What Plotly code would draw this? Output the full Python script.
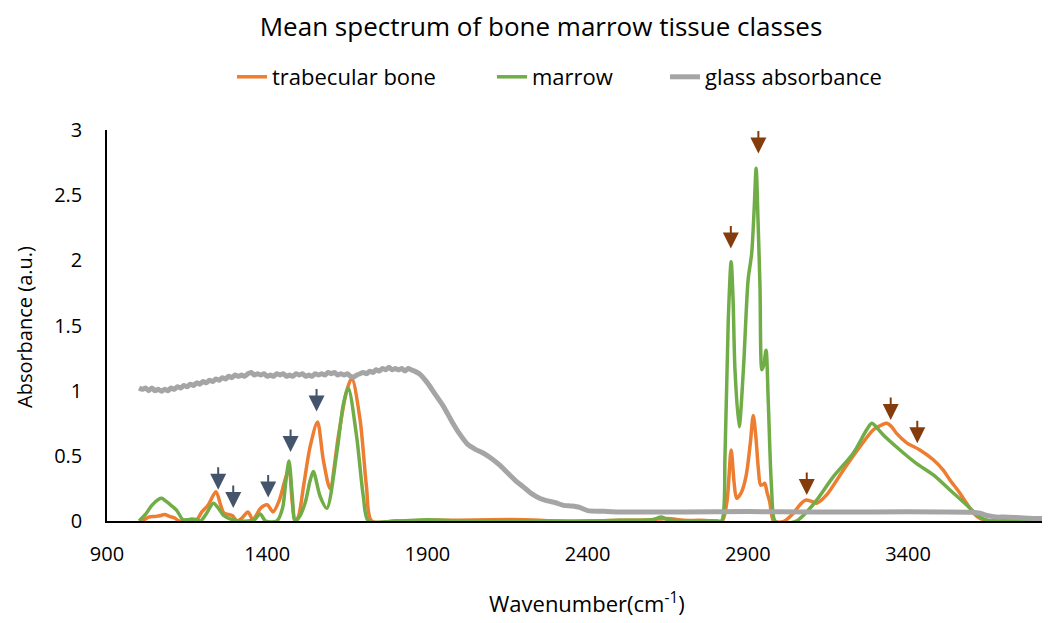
import plotly.graph_objects as go

# ---------------- data ----------------
bone_x = [1000, 1010, 1030, 1050, 1065, 1080, 1095, 1110, 1125, 1140, 1160, 1180, 1196, 1215, 1240,
          1255, 1265, 1280, 1292, 1305, 1320, 1340, 1355, 1365, 1380, 1400, 1418, 1438, 1455, 1468,
          1478, 1487, 1497, 1513, 1534, 1557, 1575, 1596, 1622, 1648, 1664, 1690, 1710, 1726,
          1800, 1900, 2000, 2100, 2200, 2300, 2350, 2400, 2500, 2600, 2650, 2700, 2750, 2800, 2820,
          2835, 2848, 2857, 2865, 2880, 2895, 2908, 2917, 2925, 2933, 2940, 2948, 2953, 2960, 2968,
          2980, 2995, 3015, 3042, 3065, 3080, 3100, 3115, 3146, 3198, 3250, 3292, 3320, 3334, 3350,
          3365, 3396, 3437, 3479, 3510, 3531, 3560, 3583, 3605, 3625, 3656, 3700, 3750, 3800, 3900]
bone_y = [0.0, 0.0, 0.03, 0.035, 0.04, 0.05, 0.035, 0.025, 0.0, 0.0, 0.005, 0.01, 0.07, 0.12, 0.225,
          0.12, 0.06, 0.05, 0.04, 0.0, 0.02, 0.07, 0.01, 0.04, 0.10, 0.125, 0.07, 0.16, 0.31, 0.40,
          0.15, 0.0, 0.03, 0.26, 0.57, 0.76, 0.47, 0.25, 0.65, 1.00, 1.095, 0.775, 0.26, 0.0,
          0.0, 0.005, 0.005, 0.01, 0.01, 0.0, -0.005, 0.0, 0.005, 0.01, 0.02, 0.005, 0.005, 0.0, 0.0,
          0.15, 0.545, 0.30, 0.174, 0.22, 0.35, 0.60, 0.81, 0.65, 0.40, 0.276, 0.28, 0.29, 0.22, 0.15,
          0.0, -0.01, 0.0, 0.06, 0.13, 0.16, 0.15, 0.136, 0.20, 0.39, 0.57, 0.70, 0.74, 0.75, 0.72,
          0.67, 0.60, 0.545, 0.47, 0.39, 0.315, 0.22, 0.136, 0.06, 0.02, 0.0, 0.01, 0.015, 0.01, 0.01]

marrow_x = [1000, 1020, 1040, 1060, 1071, 1085, 1100, 1117, 1137, 1150, 1165, 1180, 1192, 1211, 1232,
            1250, 1263, 1280, 1294, 1310, 1340, 1360, 1378, 1395, 1430, 1448, 1458, 1468, 1478, 1487,
            1500, 1518, 1534, 1544, 1565, 1586, 1617, 1638, 1653, 1679, 1700, 1716, 1800,
            1900, 1950, 2000, 2200, 2400, 2500, 2600, 2631, 2650, 2700, 2800, 2818, 2829, 2839, 2848,
            2854, 2860, 2873, 2886, 2901, 2912, 2920, 2926, 2932, 2938, 2944, 2950, 2957, 2964, 2974,
            2985, 3011, 3052, 3080, 3115, 3167, 3229, 3271, 3287, 3305, 3323, 3375, 3427, 3479, 3531,
            3583, 3625, 3656, 3700, 3800, 3900]
marrow_y = [0.0, 0.05, 0.12, 0.165, 0.174, 0.15, 0.12, 0.084, 0.01, 0.01, 0.015, 0.01, 0.0, 0.06, 0.136,
            0.09, 0.045, 0.02, 0.01, 0.0, 0.0, 0.01, 0.054, 0.0, 0.0, 0.10, 0.30, 0.46, 0.20, 0.0,
            0.03, 0.136, 0.31, 0.38, 0.19, 0.097, 0.52, 0.90, 1.02, 0.65, 0.19, 0.0, 0.0,
            0.01, 0.005, 0.0, 0.0, 0.0, 0.005, 0.01, 0.03, 0.01, 0.0, 0.0, 0.0, 0.52, 1.54, 1.99,
            1.70, 1.16, 0.724, 1.15, 1.85, 2.05, 2.40, 2.707, 2.30, 1.80, 1.16, 1.20, 1.31, 0.905, 0.26,
            0.0, -0.02, 0.0, 0.06, 0.16, 0.34, 0.52, 0.70, 0.75, 0.71, 0.66, 0.545, 0.44, 0.353, 0.238,
            0.123, 0.03, 0.0, 0.01, 0.01, 0.01]

glass_x = [1000, 1010, 1020, 1030, 1040, 1050, 1060, 1070, 1080, 1090, 1100, 1110, 1120, 1130, 1140,
           1150, 1160, 1170, 1180, 1190, 1200, 1210, 1220, 1230, 1240, 1250, 1260, 1270, 1280, 1290,
           1300, 1310, 1320, 1330, 1340, 1350, 1360, 1370, 1380, 1390, 1400, 1410, 1420, 1430, 1440,
           1450, 1460, 1470, 1480, 1490, 1500, 1510, 1520, 1530, 1540, 1550, 1560, 1570, 1580, 1590,
           1600, 1610, 1620, 1630, 1640, 1650, 1660, 1670, 1680, 1690, 1700, 1710, 1720, 1730, 1740,
           1750, 1760, 1770, 1780, 1790, 1800, 1810, 1820, 1830, 1840, 1850, 1860, 1875, 1900, 1925,
           1950, 1975, 2000, 2025, 2050, 2075, 2100, 2125, 2150, 2175, 2200, 2225, 2250, 2275, 2300,
           2325, 2350, 2375, 2400, 2450, 2500, 2700, 2900, 3100, 3300, 3500, 3600, 3625, 3650, 3675,
           3700, 3750, 3800, 3900]
glass_y = [1.02, 1.01, 1.02, 1.00, 1.02, 1.00, 1.01, 0.995, 1.01, 1.00, 1.02, 1.01, 1.03, 1.02, 1.04,
           1.03, 1.05, 1.04, 1.06, 1.05, 1.07, 1.06, 1.08, 1.07, 1.09, 1.08, 1.10, 1.09, 1.11, 1.10,
           1.12, 1.11, 1.12, 1.11, 1.13, 1.14, 1.12, 1.13, 1.12, 1.13, 1.11, 1.12, 1.11, 1.13, 1.12,
           1.13, 1.11, 1.12, 1.11, 1.13, 1.12, 1.13, 1.11, 1.12, 1.11, 1.13, 1.12, 1.13, 1.12, 1.14,
           1.13, 1.14, 1.12, 1.13, 1.12, 1.13, 1.11, 1.105, 1.12, 1.13, 1.14, 1.13, 1.15, 1.14, 1.16,
           1.15, 1.17, 1.16, 1.18, 1.16, 1.17, 1.16, 1.17, 1.15, 1.17, 1.16, 1.15, 1.13, 1.06, 0.97,
           0.88, 0.77, 0.67, 0.59, 0.55, 0.52, 0.48, 0.43, 0.37, 0.31, 0.26, 0.21, 0.175, 0.155, 0.14,
           0.12, 0.115, 0.105, 0.08, 0.075, 0.07, 0.07, 0.072, 0.07, 0.07, 0.07, 0.068, 0.06, 0.04, 0.03,
           0.03, 0.025, 0.02, 0.02]

blue_arrow_x = [1247, 1294, 1403, 1473, 1554]
blue_arrow_y = [0.24, 0.10, 0.18, 0.53, 0.84]
brown_arrow_x = [2847, 2933, 3084, 3346, 3429]
brown_arrow_y = [2.09, 2.82, 0.20, 0.775, 0.596]

x_ticks = [900, 1400, 1900, 2400, 2900, 3400]
y_ticks = [0, 0.5, 1, 1.5, 2, 2.5, 3]
y_tick_text = ["0", "0.5", "1", "1.5", "2", "2.5", "3"]

FONT = "Open Sans"
ORANGE = "#ED7D31"
GREEN = "#70AD47"
GRAY = "#A5A5A5"
BLUE_ARROW = "#44546A"
BROWN_ARROW = "#843C0C"

# The page places the figure 8 px from the window's top-left corner.
OFF = 8
W, H = 1050 - OFF, 623 - OFF


def cx(px):
    return (px - OFF) / W


def cy(py):
    return 1 - (py - OFF) / H


fig = go.Figure()
fig.add_trace(go.Scatter(x=bone_x, y=bone_y, mode="lines", name="trabecular bone",
                         line=dict(color=ORANGE, width=3.5, shape="spline", smoothing=0.8),
                         legend="legend", showlegend=True))
fig.add_trace(go.Scatter(x=marrow_x, y=marrow_y, mode="lines", name="marrow",
                         line=dict(color=GREEN, width=3.5, shape="spline", smoothing=0.8),
                         legend="legend2", showlegend=True))
fig.add_trace(go.Scatter(x=glass_x, y=glass_y, mode="lines", name="glass absorbance",
                         line=dict(color=GRAY, width=5, shape="spline", smoothing=0.6),
                         legend="legend3", showlegend=True))

annotations = []
for ax_, ay_ in zip(blue_arrow_x, blue_arrow_y):
    annotations.append(dict(x=ax_, y=ay_, xref="x", yref="y", text="", showarrow=True,
                            ax=0, ay=-24, arrowhead=2, arrowsize=1.6, arrowwidth=2,
                            arrowcolor=BLUE_ARROW, standoff=0))
for ax_, ay_ in zip(brown_arrow_x, brown_arrow_y):
    annotations.append(dict(x=ax_, y=ay_, xref="x", yref="y", text="", showarrow=True,
                            ax=0, ay=-24, arrowhead=2, arrowsize=1.6, arrowwidth=2,
                            arrowcolor=BROWN_ARROW, standoff=0))

plot_l, plot_r, plot_t, plot_b = 107, 1050, 130, 521
pw, ph = plot_r - plot_l, plot_b - plot_t


def px_(p):
    return (p - plot_l) / pw


def py_(p):
    return (plot_b - p) / ph


annotations.append(dict(text="Wavenumber(cm<sup>-1</sup>)", xref="paper", yref="paper",
                        x=px_(587), y=py_(602), showarrow=False, xanchor="center", yanchor="middle",
                        font=dict(family=FONT, size=22, color="#000000")))
annotations.append(dict(text="Absorbance (a.u.)", xref="paper", yref="paper",
                        x=px_(24), y=py_(327), showarrow=False, textangle=-90,
                        xanchor="center", yanchor="middle",
                        font=dict(family=FONT, size=20, color="#000000")))

legend_common = dict(orientation="h", xref="container", yref="container", y=cy(77),
                     yanchor="middle", xanchor="left", bgcolor="rgba(0,0,0,0)",
                     font=dict(family=FONT, size=22, color="#000000"))

fig.update_layout(
    width=W, height=H,
    showlegend=True,
    margin=dict(l=plot_l - OFF, r=0, t=plot_t - OFF, b=H - (plot_b - OFF)),
    paper_bgcolor="white", plot_bgcolor="white",
    title=dict(text="Mean spectrum of bone marrow tissue classes", x=cx(541), xanchor="center",
               xref="container", y=cy(27), yanchor="middle", yref="container",
               font=dict(family=FONT, size=26, color="#000000")),
    legend=dict(x=cx(272 - 40), **legend_common),
    legend2=dict(x=cx(532 - 40), **legend_common),
    legend3=dict(x=cx(705 - 40), **legend_common),
    annotations=annotations,
    xaxis=dict(range=[900, 900 + pw / 0.3204], tickvals=x_ticks,
               showgrid=False, zeroline=False, showline=True, linecolor="#000000", linewidth=1.5,
               ticks="", ticklabelstandoff=14,
               tickfont=dict(family=FONT, size=20, color="#000000")),
    yaxis=dict(range=[0, 3], tickvals=y_ticks, ticktext=y_tick_text,
               showgrid=False, zeroline=False, showline=True, linecolor="#000000", linewidth=1.5,
               ticks="", ticklabelstandoff=19,
               tickfont=dict(family=FONT, size=20, color="#000000")),
)

fig.write_html("out.html")
